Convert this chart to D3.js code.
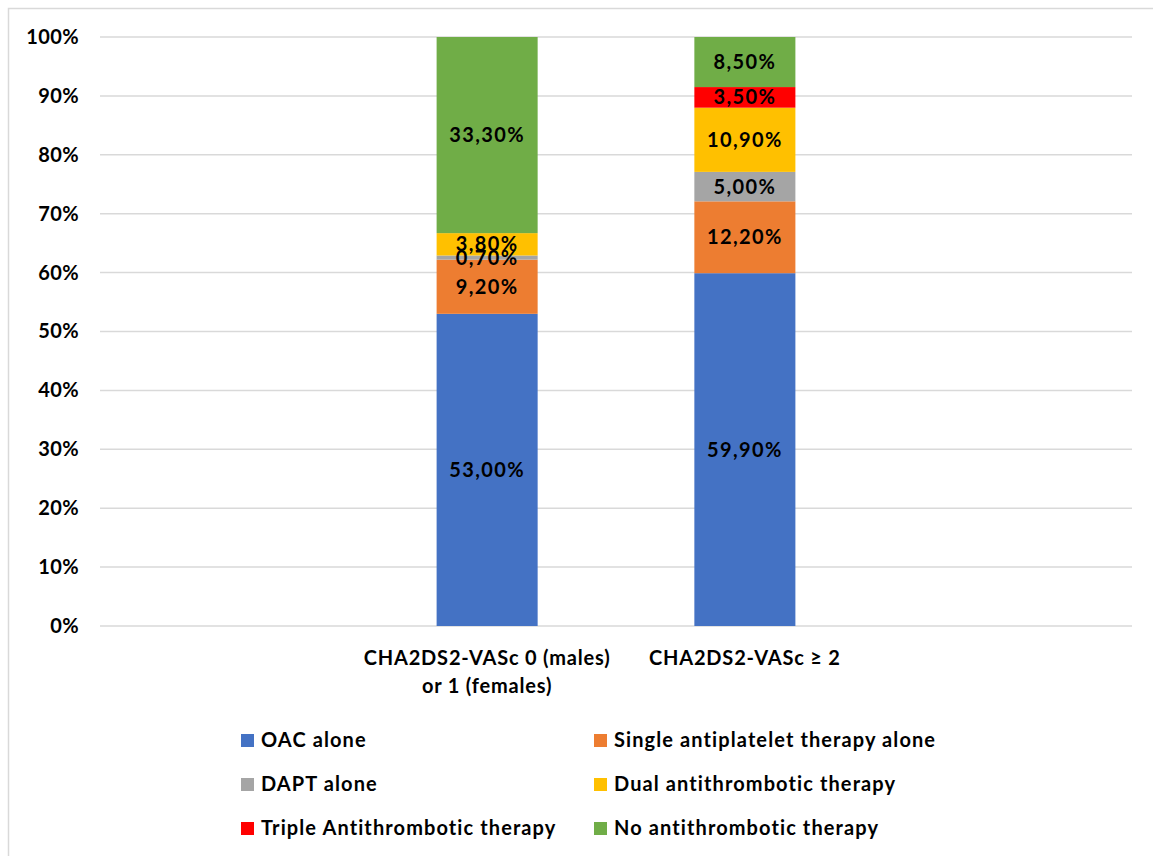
<!DOCTYPE html>
<html>
<head>
<meta charset="utf-8">
<script src="https://cdn.jsdelivr.net/npm/d3@7"></script>
<style>
  html, body { margin: 0; padding: 0; background: #fff; }
  svg { display: block; font-family: Lato, "Open Sans", sans-serif; font-weight: 700; }
</style>
</head>
<body>
<svg id="chart" width="1153" height="856"></svg>
<script>
// Groups on the x axis
const categories = ["CHA2DS2-VASc 0 (males) or 1 (females)", "CHA2DS2-VASc ≥ 2"];
const categoryLines = [["CHA2DS2-VASc 0 (males)", "or 1 (females)"], ["CHA2DS2-VASc ≥ 2"]];

// Treatment series (stack order, bottom to top)
const seriesNames = [
  "OAC alone",
  "Single antiplatelet therapy alone",
  "DAPT alone",
  "Dual antithrombotic therapy",
  "Triple Antithrombotic therapy",
  "No antithrombotic therapy"
];
const seriesColors = ["#4472C4", "#ED7D31", "#A5A5A5", "#FFC000", "#FF0000", "#70AD47"];

// Percentages per group, one array per series
const oacAlone      = [53.0, 59.9];
const sapt          = [9.2, 12.2];
const daptAlone     = [0.7, 5.0];
const dualTherapy   = [3.8, 10.9];
const tripleTherapy = [0.0, 3.5];
const noTherapy     = [33.3, 8.5];

const yTicks = [0, 10, 20, 30, 40, 50, 60, 70, 80, 90, 100];

const seriesValues = [oacAlone, sapt, daptAlone, dualTherapy, tripleTherapy, noTherapy];
const rows = categories.map((c, i) => {
  const r = { category: c };
  seriesNames.forEach((s, j) => { r[s] = seriesValues[j][i]; });
  return r;
});

const svg = d3.select("#chart");
const plot = { left: 100, right: 1132, top: 37, bottom: 626 };

// Outer chart frame
svg.append("rect")
  .attr("x", 8.5).attr("y", 8.5)
  .attr("width", 1200).attr("height", 900)
  .attr("fill", "none").attr("stroke", "#d9d9d9").attr("stroke-width", 1.5);

const x = d3.scaleBand()
  .domain(categories)
  .range([plot.left, plot.right])
  .paddingInner(0.608)
  .paddingOuter(1.306);

const y = d3.scaleLinear().domain([0, 100]).range([plot.bottom, plot.top]);

// Gridlines
svg.append("g")
  .selectAll("line")
  .data(yTicks)
  .join("line")
  .attr("x1", plot.left).attr("x2", plot.right)
  .attr("y1", d => y(d)).attr("y2", d => y(d))
  .attr("stroke", "#d9d9d9").attr("stroke-width", 1.5);

// Y axis labels
const yAxis = svg.append("g")
  .attr("transform", `translate(${plot.left},0)`)
  .call(d3.axisLeft(y).tickValues(yTicks).tickFormat(d => d + "%").tickSize(0).tickPadding(21));
yAxis.select(".domain").remove();
yAxis.selectAll("text")
  .attr("font-family", "Lato, sans-serif")
  .attr("font-weight", 700)
  .attr("font-size", 20)
  .attr("letter-spacing", 0.4)
  .attr("fill", "#000");

// Stacked bars
const stack = d3.stack().keys(seriesNames);
const layers = stack(rows);

const fmt = v => v.toFixed(2).replace(".", ",") + "%";

const layerG = svg.append("g")
  .selectAll("g")
  .data(layers)
  .join("g")
  .attr("fill", (d, i) => seriesColors[i]);

layerG.selectAll("rect")
  .data(d => d.filter(p => p[1] - p[0] > 0))
  .join("rect")
  .attr("x", d => x(d.data.category))
  .attr("width", x.bandwidth())
  .attr("y", d => y(d[1]))
  .attr("height", d => y(d[0]) - y(d[1]));

// Value labels
const labelG = svg.append("g");
layers.forEach((layer) => {
  layer.forEach(p => {
    const v = p[1] - p[0];
    if (v <= 0) return;
    labelG.append("text")
      .attr("x", x(p.data.category) + x.bandwidth() / 2)
      .attr("y", y((p[0] + p[1]) / 2))
      .attr("dy", "0.35em")
      .attr("text-anchor", "middle")
      .attr("font-size", 20)
      .attr("letter-spacing", 1.4)
      .attr("fill", "#000")
      .text(fmt(v));
  });
});

// Category labels
const catG = svg.append("g");
categories.forEach((c, i) => {
  const t = catG.append("text")
    .attr("x", x(c) + x.bandwidth() / 2)
    .attr("y", 665)
    .attr("text-anchor", "middle")
    .attr("font-size", 20)
    .attr("letter-spacing", 0.8)
    .attr("fill", "#000");
  categoryLines[i].forEach((line, k) => {
    t.append("tspan")
      .attr("x", x(c) + x.bandwidth() / 2)
      .attr("dy", k === 0 ? 0 : 28)
      .text(line);
  });
});

// Legend in two columns
const legendCols = [241, 594];
const legendRows = [740, 784, 828];
const legend = svg.append("g")
  .selectAll("g")
  .data(seriesNames)
  .join("g")
  .attr("transform", (d, i) => `translate(${legendCols[i % 2]},${legendRows[Math.floor(i / 2)]})`);

legend.append("rect")
  .attr("x", 0).attr("y", -6)
  .attr("width", 13).attr("height", 13)
  .attr("fill", (d, i) => seriesColors[i]);

legend.append("text")
  .attr("x", 20).attr("y", 0)
  .attr("dy", "0.36em")
  .attr("font-size", 20)
  .attr("letter-spacing", 1.1)
  .attr("fill", "#000")
  .text(d => d);
</script>
</body>
</html>
